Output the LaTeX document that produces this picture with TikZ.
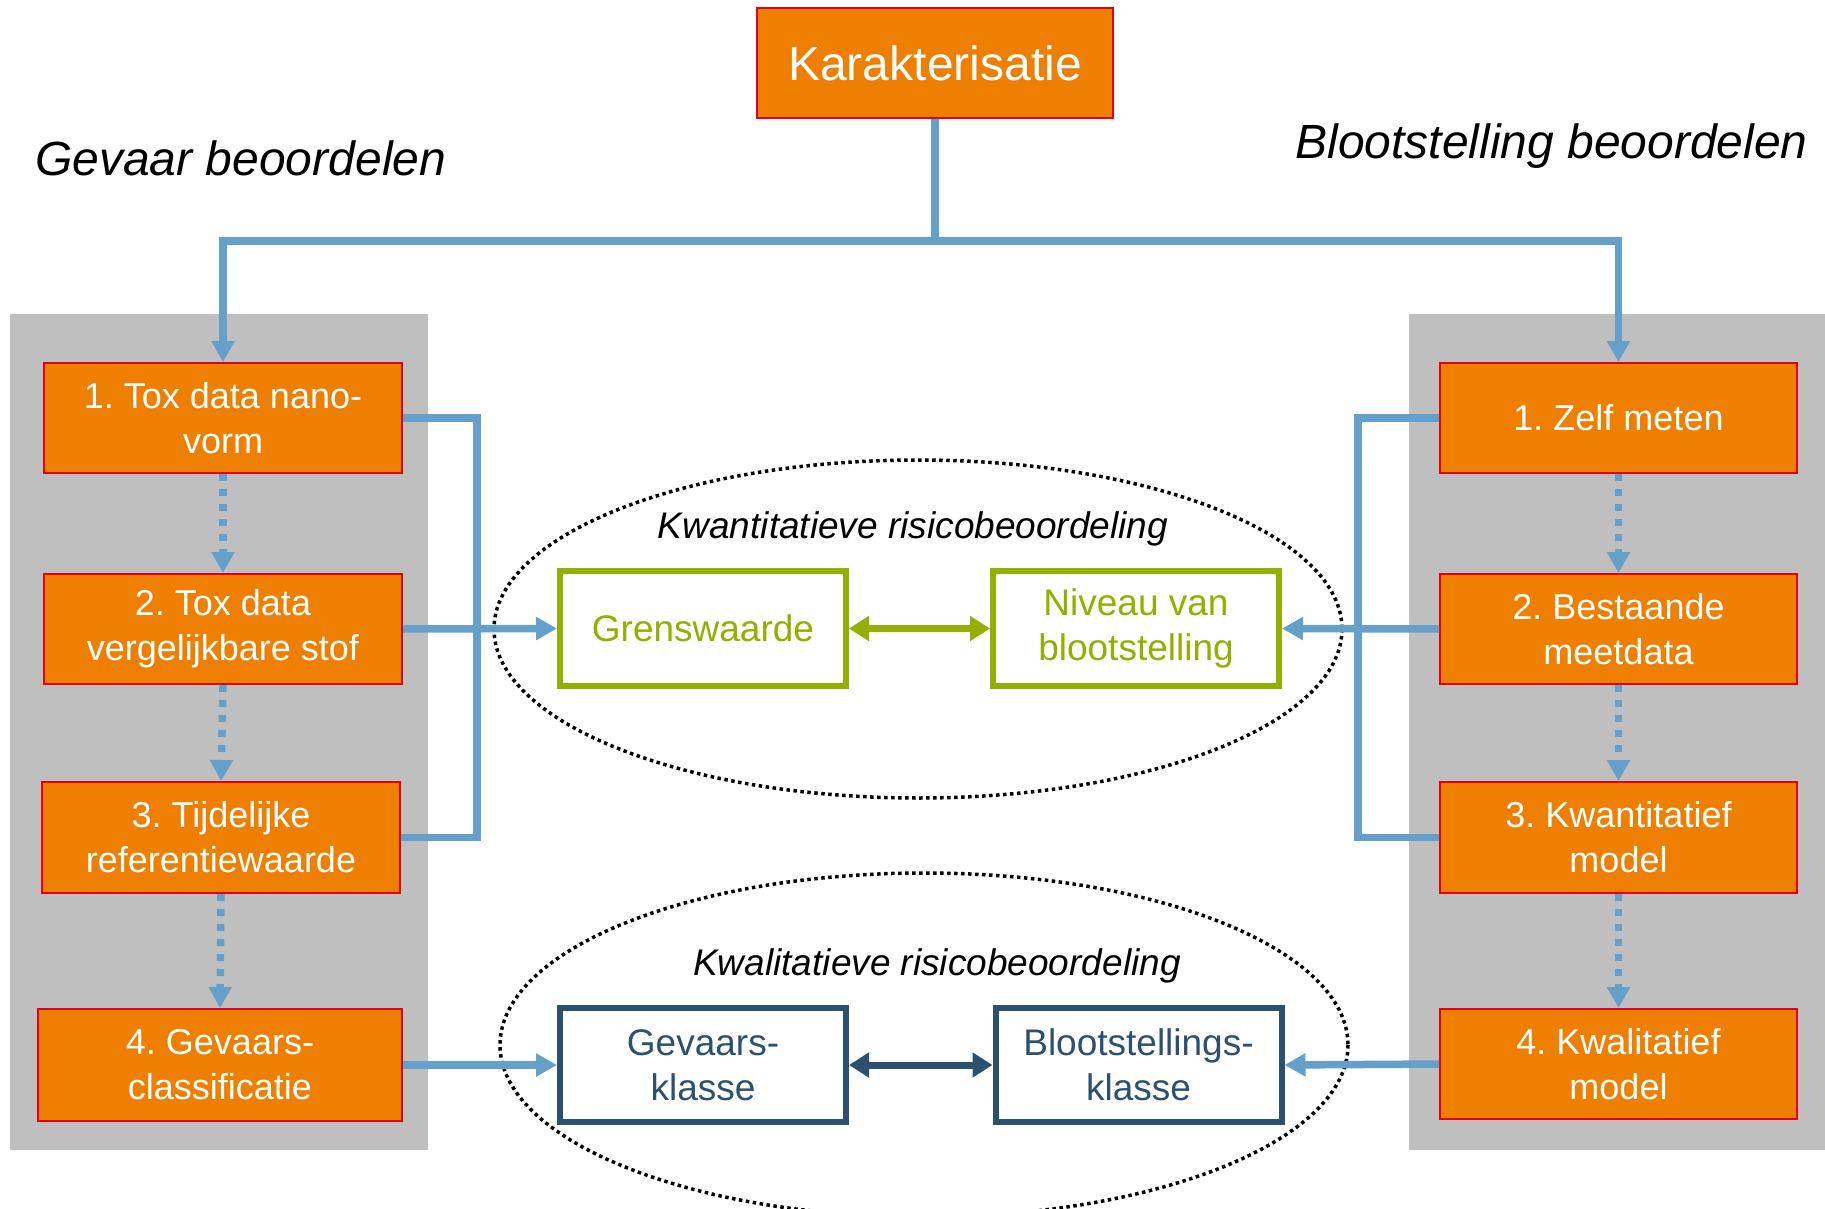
\documentclass[tikz,border=0pt]{standalone}
\usepackage{fontspec}
\setmainfont{Liberation Sans}
\usetikzlibrary{arrows.meta}
\definecolor{orng}{HTML}{EE7F00}
\definecolor{redb}{HTML}{E2001A}
\definecolor{blu}{HTML}{65A0CA}
\definecolor{grn}{HTML}{94AF00}
\definecolor{dblu}{HTML}{2C5070}
\definecolor{panel}{HTML}{BFBFBF}
\frenchspacing
\begin{document}
\begin{tikzpicture}[x=1pt,y=-1pt,
  obox/.style={draw=redb, line width=2pt, fill=orng, text=white, font=\fontsize{36}{45}\selectfont, align=center, inner sep=0pt, minimum width=358pt, minimum height=110pt},
  gbox/.style={draw=grn, line width=6pt, fill=white, text=grn, font=\fontsize{37}{45}\selectfont, align=center, inner sep=0pt, minimum width=286pt, minimum height=115pt},
  bbox/.style={draw=dblu, line width=6pt, fill=white, text=dblu, font=\fontsize{37}{45}\selectfont, align=center, inner sep=0pt, minimum width=286pt, minimum height=114pt},
  conn/.style={draw=blu, line width=7.5pt},
  arr/.style={-{Triangle[width=22pt,length=21pt]}},
  dotarr/.style={conn, dash pattern=on 7pt off 8pt, -{Triangle[width=22pt,length=21pt]}},
  title/.style={font=\fontsize{48}{56}\selectfont\itshape, inner sep=0pt},
  elabel/.style={font=\fontsize{37}{45}\selectfont\itshape, inner sep=0pt},
  dotell/.style={draw=black, line width=3.5pt, dash pattern=on 3.5pt off 3.5pt}
]
\useasboundingbox (0,0) rectangle (1825,1209);
% panels
\fill[panel] (10,314) rectangle (428,1150);
\fill[panel] (1409,314) rectangle (1825,1150);
% ellipses
\draw[dotell] (918,629) ellipse [x radius=424, y radius=169];
\draw[dotell] (924,1045) ellipse [x radius=424, y radius=172];
% titles
\node[title, anchor=base west] (tgev) at (35,176) {Gevaar beoordelen};
\node[title, anchor=base east] (tbloot) at (1808,159) {Blootstelling beoordelen};
\node[elabel, anchor=base] (lkwan) at (913,538) {Kwantitatieve risicobeoordeling};
\node[elabel, anchor=base] (lkwal) at (937,975) {Kwalitatieve risicobeoordeling};
% top box
\node[obox, minimum width=356pt, minimum height=110pt, font=\fontsize{48}{56}\selectfont] (kar) at (935,63) {Karakterisatie};
% left boxes
\node[obox] (l1) at (223,418) {1. Tox data nano-\\vorm};
\node[obox] (l2) at (223,629) {2. Tox data\\vergelijkbare stof};
\node[obox, minimum height=111pt] (l3) at (221,837.5) {3. Tijdelijke\\referentiewaarde};
\node[obox, minimum width=364pt, minimum height=112pt] (l4) at (220,1065) {4. Gevaars-\\classificatie};
% right boxes
\node[obox, minimum width=357pt] (r1) at (1618.5,418) {1. Zelf meten};
\node[obox, minimum width=357pt] (r2) at (1618.5,629) {2. Bestaande\\meetdata};
\node[obox, minimum width=357pt, minimum height=111pt] (r3) at (1618.5,837.5) {3. Kwantitatief\\model};
\node[obox, minimum width=357pt] (r4) at (1618.5,1064) {4. Kwalitatief\\model};
% middle boxes
\node[gbox] (gw) at (703,628.5) {Grenswaarde};
\node[gbox] (nv) at (1136,628.5) {Niveau van\\blootstelling};
\node[bbox] (gk) at (703,1065) {Gevaars-\\klasse};
\node[bbox] (bk) at (1138.5,1065) {Blootstellings-\\klasse};
% coordinates
\coordinate (hub) at (935,241);
\coordinate (busL) at (477,0);
\coordinate (busR) at (1358,0);
% top connectors
\draw[conn, arr] (kar.south) -- (hub) -| (l1.north);
\draw[conn, arr] (hub) -| (r1.north);
% dotted vertical arrows
\draw[dotarr] (l1.south) -- (l2.north);
\draw[dotarr] (l2.south) -- (l3.north);
\draw[dotarr] (l3.south) -- (l4.north);
\draw[dotarr] (r1.south) -- (r2.north);
\draw[dotarr] (r2.south) -- (r3.north);
\draw[dotarr] (r3.south) -- (r4.north);
% buses
\draw[conn] (l1.east) -- (l1.east -| busL) -- (l3.east -| busL) -- (l3.east);
\draw[conn] (r1.west) -- (r1.west -| busR) -- (r3.west -| busR) -- (r3.west);
% arrows to middle boxes
\draw[conn, arr] (l2.east) -- (gw.west);
\draw[conn, arr] (r2.west) -- (nv.east);
\draw[conn, arr] (l4.east) -- (gk.west);
\draw[conn, arr] (r4.west) -- (bk.east);
% double arrows
\draw[grn, line width=7pt, {Triangle[width=24pt,length=20pt]}-{Triangle[width=24pt,length=20pt]}] (gw.east) -- (nv.west);
\draw[dblu, line width=7pt, {Triangle[width=24pt,length=20pt]}-{Triangle[width=24pt,length=20pt]}] (gk.east) -- (bk.west);
\end{tikzpicture}
\end{document}
